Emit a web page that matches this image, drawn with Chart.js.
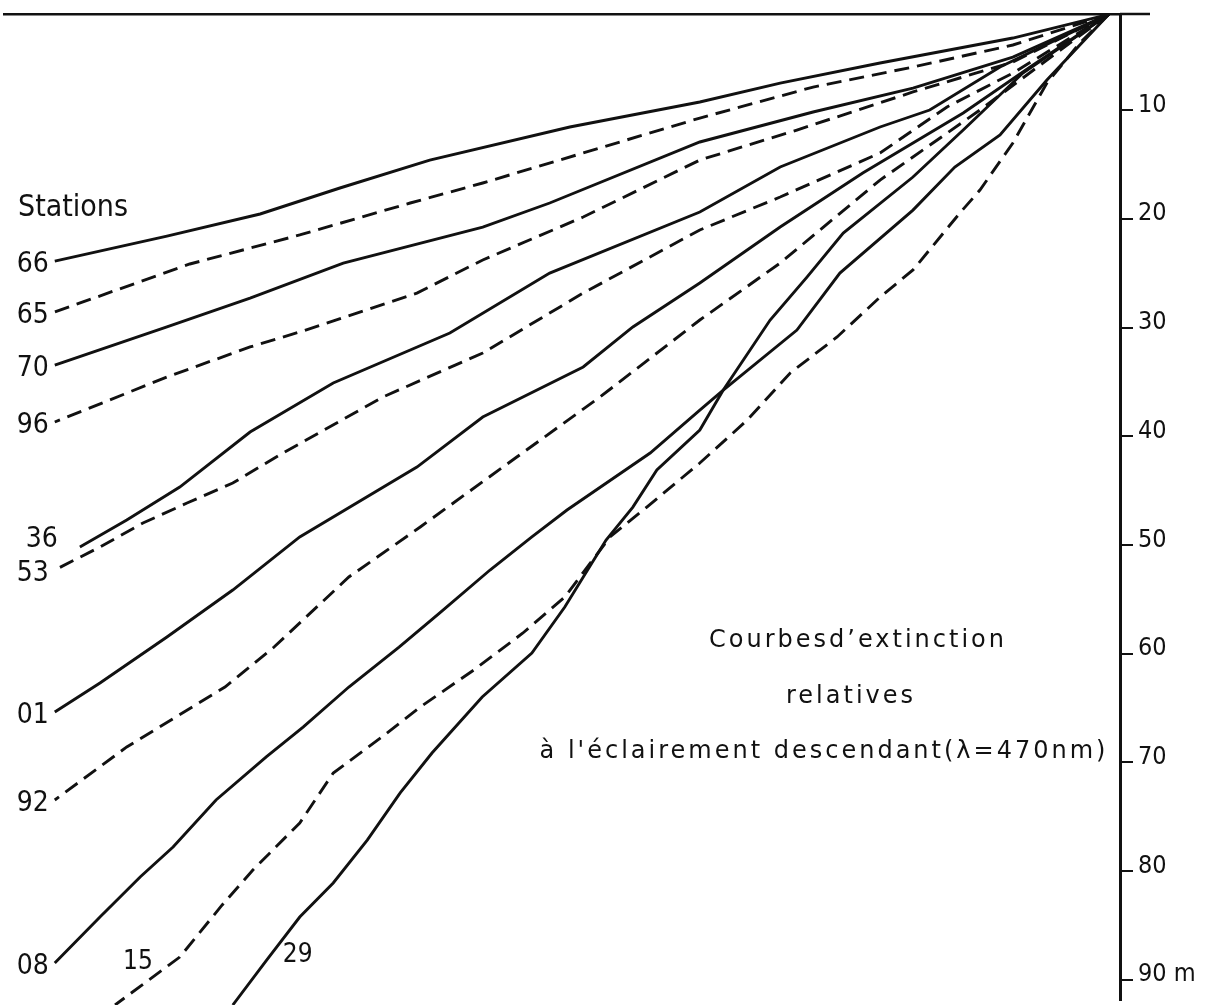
<!DOCTYPE html>
<html lang="fr">
<head>
<meta charset="utf-8">
<title>Courbes d'extinction</title>
<script src="https://cdn.jsdelivr.net/npm/chart.js@4.4.1/dist/chart.umd.min.js"></script>
<style>
  html, body { margin: 0; padding: 0; background: #fff; }
  #wrap { position: relative; width: 1220px; height: 1005px; }
</style>
</head>
<body>
<div id="wrap"><canvas id="chart"></canvas></div>
<script>
// each point: [log10(E/E0), depth in m]  (éclairement descendant, 470 nm)
const stations = ['66', '65', '70', '96', '36', '53', '01', '92', '08', '15', '29'];
const dashedStations = ['65', '96', '53', '92', '15'];
const depthTicks = [10, 20, 30, 40, 50, 60, 70, 80, 90];

const st66 = [[-0.02, 1.2], [-0.192, 3.38], [-0.43, 5.68], [-0.609, 7.52], [-0.753, 9.26], [-0.986, 11.56], [-1.237, 14.6], [-1.398, 17.17], [-1.541, 19.56], [-1.708, 21.59], [-1.909, 23.89]];
const st65 = [[-0.02, 1.2], [-0.192, 4.02], [-0.371, 6.05], [-0.55, 7.89], [-0.753, 10.74], [-0.962, 13.95], [-1.142, 16.71], [-1.272, 18.55], [-1.47, 21.49], [-1.667, 24.16], [-1.909, 28.57]];
const st70 = [[-0.02, 1.2], [-0.192, 5.13], [-0.371, 7.98], [-0.55, 10.18], [-0.753, 12.94], [-1.022, 18.55], [-1.142, 20.76], [-1.392, 24.07], [-1.559, 27.29], [-1.708, 29.95], [-1.909, 33.45]];
const st96 = [[-0.02, 1.2], [-0.192, 5.59], [-0.371, 8.34], [-0.579, 11.84], [-0.753, 14.6], [-0.962, 19.84], [-1.142, 23.79], [-1.26, 26.83], [-1.47, 30.41], [-1.559, 31.79], [-1.708, 34.55], [-1.909, 38.69]];
const st36 = [[-0.02, 1.2], [-0.215, 6.05], [-0.341, 10.0], [-0.43, 11.56], [-0.609, 15.24], [-0.753, 19.38], [-1.022, 24.99], [-1.201, 30.51], [-1.41, 35.1], [-1.559, 39.61], [-1.685, 44.67], [-1.78, 47.7], [-1.864, 50.18]];
const st53 = [[-0.02, 1.2], [-0.192, 6.6], [-0.31, 9.72], [-0.43, 13.95], [-0.609, 18.0], [-0.753, 21.03], [-0.962, 26.83], [-1.142, 32.34], [-1.321, 36.39], [-1.5, 41.54], [-1.59, 44.3], [-1.672, 46.14], [-1.751, 47.98], [-1.828, 50.18], [-1.909, 52.3]];
const st01 = [[-0.02, 1.2], [-0.161, 6.05], [-0.281, 10.28], [-0.461, 15.79], [-0.609, 20.76], [-0.753, 25.91], [-0.873, 29.95], [-0.962, 33.63], [-1.142, 38.23], [-1.26, 42.83], [-1.47, 49.26], [-1.59, 54.14], [-1.708, 58.46], [-1.828, 62.69], [-1.909, 65.36]];
const st92 = [[-0.02, 1.2], [-0.131, 5.4], [-0.251, 10.0], [-0.43, 16.44], [-0.609, 24.07], [-0.753, 29.31], [-0.932, 36.39], [-1.081, 41.91], [-1.254, 48.34], [-1.382, 52.94], [-1.516, 59.38], [-1.604, 63.06], [-1.78, 68.57], [-1.909, 73.45]];
const st08 = [[-0.02, 1.2], [-0.131, 7.24], [-0.215, 12.3], [-0.296, 15.24], [-0.371, 19.2], [-0.502, 24.99], [-0.579, 30.23], [-0.711, 35.75], [-0.753, 37.59], [-0.842, 41.54], [-0.991, 46.78], [-1.054, 49.26], [-1.129, 52.3], [-1.219, 56.25], [-1.292, 59.38], [-1.382, 63.06], [-1.464, 66.74], [-1.53, 69.49], [-1.62, 73.45], [-1.697, 77.77], [-1.756, 80.53], [-1.828, 84.21], [-1.909, 88.44]];
const st15 = [[-0.02, 1.2], [-0.072, 3.84], [-0.131, 7.52], [-0.192, 13.03], [-0.251, 17.36], [-0.287, 19.47], [-0.371, 24.71], [-0.43, 27.2], [-0.507, 30.87], [-0.591, 34.18], [-0.668, 38.51], [-0.753, 42.46], [-0.848, 46.51], [-0.914, 49.26], [-0.995, 54.78], [-1.07, 58.09], [-1.158, 61.49], [-1.254, 64.9], [-1.323, 67.66], [-1.41, 70.97], [-1.47, 75.56], [-1.554, 79.89], [-1.609, 83.1], [-1.685, 87.89], [-1.801, 92.3]];
const st29 = [[-0.02, 1.2], [-0.174, 6.6], [-0.281, 11.84], [-0.371, 16.16], [-0.496, 21.31], [-0.561, 25.36], [-0.627, 29.31], [-0.711, 35.75], [-0.753, 39.43], [-0.83, 43.1], [-0.873, 46.51], [-0.921, 49.54], [-0.995, 55.7], [-1.054, 59.93], [-1.143, 63.98], [-1.233, 69.13], [-1.29, 72.8], [-1.349, 77.13], [-1.41, 81.08], [-1.47, 84.21], [-1.529, 88.16], [-1.59, 92.3]];

const profiles = { '66': st66, '65': st65, '70': st70, '96': st96, '36': st36, '53': st53,
                   '01': st01, '92': st92, '08': st08, '15': st15, '29': st29 };

const captionLines = ['Courbesd’extinction', 'relatives', 'à l\'éclairement descendant(λ=470nm)'];

const INK = '#111';
const FONT = '"DejaVu Sans Condensed", "DejaVu Sans", sans-serif';
const CAPTION_FONT = '"DejaVu Sans", sans-serif';

// where each station number sits relative to the deep end of its curve
const labelOffset = {
  '36': [-22, -7, 'right'],
  '15': [8, -43, 'left'],
  '29': [50, -50, 'left']
};

const annotations = {
  id: 'annotations',
  afterDraw(chart) {
    const ctx = chart.ctx;
    const area = chart.chartArea;
    const y = chart.scales.y;
    ctx.save();
    ctx.fillStyle = INK;
    ctx.strokeStyle = INK;

    // surface line runs a little past the depth axis
    ctx.lineWidth = 2.5;
    ctx.beginPath();
    ctx.moveTo(area.right, area.top);
    ctx.lineTo(area.right + 30, area.top);
    ctx.stroke();

    ctx.textBaseline = 'middle';
    chart.data.datasets.forEach((ds, i) => {
      const pts = chart.getDatasetMeta(i).data;
      const end = pts[pts.length - 1];
      const off = labelOffset[ds.label] || [-6, 4, 'right'];
      ctx.font = (off[2] === 'left' ? '26px ' : '28px ') + FONT;
      ctx.textAlign = off[2];
      ctx.fillText(ds.label, end.x + off[0], end.y + off[1]);
    });

    ctx.font = '30px ' + FONT;
    ctx.textAlign = 'left';
    ctx.fillText('Stations', area.left + 14, y.getPixelForValue(19.0));

    ctx.font = '24px ' + CAPTION_FONT;
    ctx.letterSpacing = '3px';
    ctx.textAlign = 'center';
    ctx.textBaseline = 'alphabetic';
    const capX = [area.right - 262, area.right - 269, area.right - 296];
    const capDepth = [59.4, 64.5, 69.6];
    captionLines.forEach((t, i) => {
      ctx.fillText(t, capX[i], y.getPixelForValue(capDepth[i]));
    });
    ctx.restore();
  }
};

const datasets = stations.map(s => ({
  label: s,
  data: profiles[s].map(p => ({ x: p[0], y: p[1] })),
  borderColor: INK,
  borderWidth: 2.9,
  borderDash: dashedStations.includes(s) ? [15, 8] : [],
  pointRadius: 0,
  tension: 0,
  fill: false,
  clip: 10
}));

new Chart(document.getElementById('chart'), {
  type: 'line',
  data: { datasets },
  plugins: [annotations],
  options: {
    responsive: true,
    maintainAspectRatio: false,
    animation: false,
    layout: { padding: { top: 14, left: 4, right: 0, bottom: 5 } },
    plugins: { legend: { display: false }, tooltip: { enabled: false } },
    scales: {
      x: {
        type: 'linear',
        position: 'top',
        min: -2,
        max: 0,
        ticks: { display: false },
        grid: { display: false, drawTicks: false },
        border: { display: true, color: INK, width: 2.5 },
        afterFit(scale) {
          scale.height = 0;
          scale.paddingLeft = 0;
          scale.paddingRight = 0;
        }
      },
      y: {
        type: 'linear',
        position: 'right',
        reverse: true,
        min: 1.17,
        max: 91.84,
        afterBuildTicks(scale) { scale.ticks = depthTicks.map(v => ({ value: v })); },
        afterFit(scale) {
          scale.width = 100;
          scale.paddingTop = 0;
          scale.paddingBottom = 0;
        },
        ticks: {
          color: INK,
          padding: 5,
          labelOffset: -5,
          font: { family: FONT, size: 25 },
          callback: v => (v === 90 ? '90 m' : String(v))
        },
        grid: { drawOnChartArea: false, drawTicks: true, tickLength: 13, color: INK, lineWidth: 2 },
        border: { display: true, color: INK, width: 3 }
      }
    }
  }
});
</script>
</body>
</html>
